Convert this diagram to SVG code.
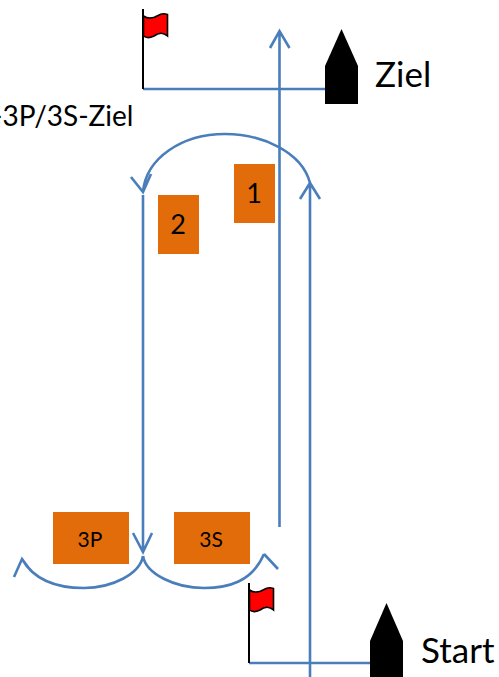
<svg xmlns="http://www.w3.org/2000/svg" width="499" height="677" viewBox="0 0 499 677">
<defs>
<style>
.c{fill:none;stroke:#4a7ebb;stroke-width:2.6}
.b{fill:#000}
.r{fill:#e36c0a}
.p{stroke:#000;stroke-width:2;fill:none}
.f{fill:#f00;stroke:#000;stroke-width:1.6}
text{font-family:"Lato","Open Sans","Liberation Sans",sans-serif;fill:#000}
</style>
<g id="flagshape"><path class="f" d="M143.500 16C149 20 154 18 158 15.500C161 13.500 165 13.500 167.500 14.500L167.500 36C163 32 158 33 154 36C150 38 146 38 143.500 36Z"/><path class="p" d="M143 9V89"/></g>
</defs>
<g id="connectors">
<path class="c" d="M143 89H325"/>
<path class="c" d="M249 663H370"/>
<path class="c" d="M279.500 527V31M270 48L279.500 31L289.500 48"/>
<path class="c" d="M310 677V183M300 199L310 183L320 199"/>
<path class="c" d="M310 183C302 152 262 134 225 134C182 134 146 158 143 192M131 177L143 192L151 174"/>
<path class="c" d="M143 195V552M133 533L143 552L152 533"/>
<path class="c" d="M143 556C140 574 112 588 84 588C57 588 34 580 22 559M14 577L22 559L31 571"/>
<path class="c" d="M143 556C146 574 175 588 204 588C228 588 252 582 264 554M264 554L278 569"/>
</g>
<g id="flag-ziel"><use href="#flagshape"/></g>
<g id="flag-start"><use href="#flagshape" transform="translate(106 574)"/></g>
<g id="boat-ziel"><path class="b" d="M341.500 29L358 66V104H325V66Z"/><text x="375" y="87" font-size="35">Ziel</text></g>
<g id="boat-start"><path class="b" d="M386.500 603L403 641V677H370V641Z"/><text x="421" y="663" font-size="35">Start</text></g>
<g id="label-3p3s-ziel"><text x="-8" y="126" font-size="28">-3P/3S-Ziel</text></g>
<g id="node-1"><rect class="r" x="234" y="164" width="41" height="59"/><text x="254" y="203" font-size="27" text-anchor="middle">1</text></g>
<g id="node-2"><rect class="r" x="158" y="195" width="41" height="59"/><text x="178" y="234" font-size="27" text-anchor="middle">2</text></g>
<g id="node-3p"><rect class="r" x="53" y="512" width="76" height="52"/><text x="90" y="547" font-size="21" text-anchor="middle">3P</text></g>
<g id="node-3s"><rect class="r" x="174" y="512" width="76" height="52"/><text x="211" y="547" font-size="21" text-anchor="middle">3S</text></g>
</svg>
